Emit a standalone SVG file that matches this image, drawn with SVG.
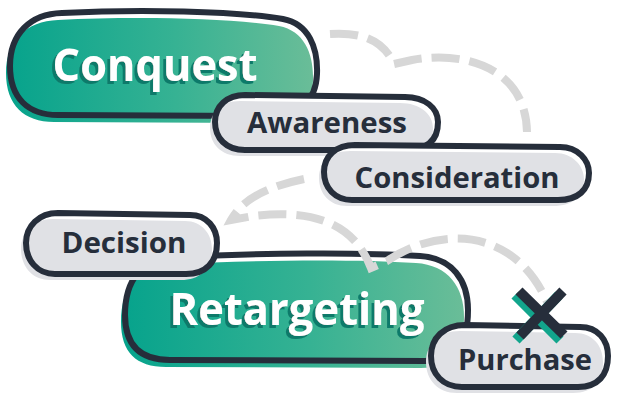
<svg xmlns="http://www.w3.org/2000/svg" width="620" height="400" viewBox="0 0 620 400">
<defs>
<linearGradient id="teal" x1="0" y1="0" x2="1" y2="0">
<stop offset="0" stop-color="#06a38c"/>
<stop offset="0.55" stop-color="#36b293"/>
<stop offset="1" stop-color="#6abd98"/>
</linearGradient>
<filter id="tshadow" x="-10%" y="-20%" width="120%" height="150%">
<feDropShadow dx="-3" dy="3" stdDeviation="0" flood-color="#0f7a6b" flood-opacity="1"/>
</filter>
<path id="p-conq" d="M62,13 C140,9 235,11 283,19 C309,24 318,48 317,74 C316,101 300,115 268,116 L58,115 C28,115 10,98 10,66 C10,34 30,14 62,13 Z"/>
<path id="p-aw" d="M245,95 L405,97 C425,97 438,108 438,122 C438,140 428,150 405,150 L245,150 C226,150 215,138 215,122 C215,106 227,95 245,95 Z"/>
<path id="p-con" d="M355,145 L560,147 C578,147 589,160 589,173 C589,190 578,200 558,200 L352,200 C335,200 324,188 324,172 C324,156 336,145 355,145 Z"/>
<path id="p-ret" d="M175,257 C260,253 360,252 420,256 C452,258 468,280 468,310 C468,345 455,360 425,361 L170,360 C140,360 125,345 125,315 C125,280 142,258 175,257 Z"/>
<path id="p-dec" d="M58,213 L190,215 C207,215 217,228 217,243 C217,262 206,274 186,274 L55,274 C37,274 26,260 26,243 C26,226 39,213 58,213 Z"/>
<path id="p-pur" d="M465,325 L580,327 C598,327 608,340 608,356 C608,375 598,387 578,387 L462,387 C443,387 431,374 431,356 C431,338 444,325 465,325 Z"/>
<style>
.bg{fill:#ffffff;stroke:none}
.tf{fill:url(#teal);stroke:none}
.gf{fill:#e0e1e5;stroke:none}
.ol{fill:none;stroke:#262e3b;stroke-width:6;stroke-linejoin:round}
.big{font-family:"Open Sans",Lato,sans-serif;font-weight:700;font-size:45px;text-anchor:middle;fill:#ffffff;filter:url(#tshadow)}
.sm{font-family:"Open Sans",Lato,sans-serif;font-weight:700;font-size:28px;text-anchor:middle;fill:#262e3b}
.dash{fill:none;stroke:#d7d7d7;stroke-width:8;stroke-dasharray:28 10;stroke-linejoin:miter}
</style>
</defs>

<g id="conquest">
<use href="#p-conq" class="bg"/>
<use href="#p-conq" class="tf" transform="translate(-4,7)"/>
<use href="#p-conq" class="ol"/>
<text class="big" x="155" y="81" textLength="205" lengthAdjust="spacingAndGlyphs">Conquest</text>
</g>

<g id="awareness">
<use href="#p-aw" class="bg"/>
<use href="#p-aw" class="gf" transform="translate(-5,6)"/>
<use href="#p-aw" class="ol"/>
<text class="sm" x="327" y="133" textLength="160" lengthAdjust="spacingAndGlyphs">Awareness</text>
</g>

<g id="consideration">
<use href="#p-con" class="bg"/>
<use href="#p-con" class="gf" transform="translate(-5,6)"/>
<use href="#p-con" class="ol"/>
<text class="sm" x="457" y="188" textLength="205" lengthAdjust="spacingAndGlyphs">Consideration</text>
</g>

<g id="retargeting">
<use href="#p-ret" class="bg"/>
<use href="#p-ret" class="tf" transform="translate(-4,7)"/>
<use href="#p-ret" class="ol"/>
<text class="big" x="297" y="325" textLength="255" lengthAdjust="spacingAndGlyphs">Retargeting</text>
</g>

<g id="decision">
<use href="#p-dec" class="bg"/>
<use href="#p-dec" class="gf" transform="translate(-5,6)"/>
<use href="#p-dec" class="ol"/>
<text class="sm" x="124" y="253" textLength="125" lengthAdjust="spacingAndGlyphs">Decision</text>
</g>

<g id="purchase">
<use href="#p-pur" class="bg"/>
<use href="#p-pur" class="gf" transform="translate(-5,6)"/>
<use href="#p-pur" class="ol"/>
<text class="sm" x="525" y="370" textLength="134" lengthAdjust="spacingAndGlyphs">Purchase</text>
</g>

<g id="connectors">
<path class="dash" d="M330,34 C362,32 383,40 394,64 L412,60 C468,50 526,70 527,132"/>
<path class="dash" d="M304,179 C270,186 243,198 231,220 L253,216 C305,210 352,218 371,268 L387,261 C440,225 515,228 547,302"/>
<g id="x-mark" stroke-width="10" fill="none">
<path d="M515,295 L560,340 M559,295 L516,340" stroke="#12a58c"/>
<path d="M519,291 L564,335 M563,291 L520,336" stroke="#262e3b"/>
</g>
</g>
</svg>
